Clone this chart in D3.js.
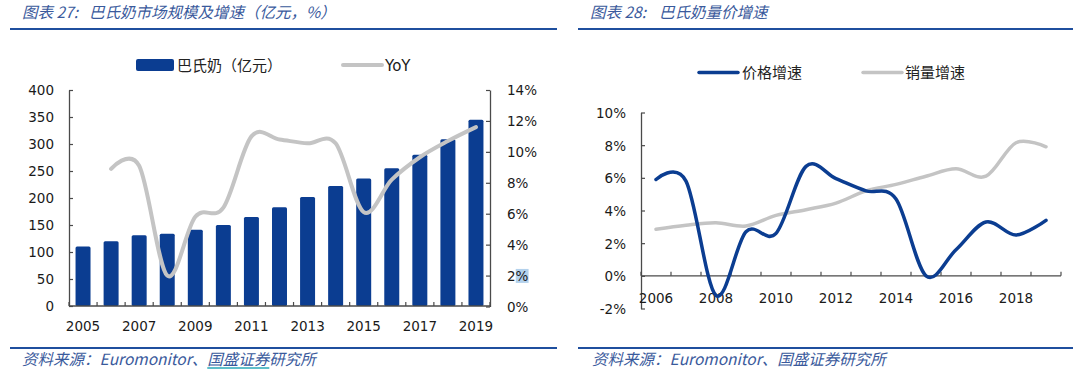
<!DOCTYPE html>
<html lang="zh">
  <head>
    <meta charset="UTF-8" />
    <title>巴氏奶市场规模及增速</title>
    <style>
      body { margin: 0; background: #fff; }
      svg { display: block; }
      .title, .source { font-family: "Noto Sans CJK SC", sans-serif; font-style: italic; fill: #3a5a9c; font-size: 15.5px; }
      .lab { font-family: "DejaVu Sans", Verdana, sans-serif; font-size: 13.5px; fill: #1a1a1a; }
      .legend { font-family: "Noto Sans CJK SC", sans-serif; font-size: 15px; fill: #222; }
    </style>
  </head>
  <body>
    <svg width="1073" height="383"></svg>

    <script src="https://d3js.org/d3.v7.min.js"></script>
    <script>
      // chart 27 data
      const years27 = d3.range(2005, 2020);
      const market = [110, 120, 131, 134, 141, 150, 165, 183, 202, 222, 236, 255, 280, 309, 345];
      const yoyYears = d3.range(2006, 2020);
      const yoy = [8.9, 9.1, 2.0, 5.8, 6.4, 11.0, 10.8, 10.55, 10.55, 6.1, 8.2, 9.65, 10.7, 11.6];
      const leftTicks = [0, 50, 100, 150, 200, 250, 300, 350, 400];
      const rightTicks = [0, 2, 4, 6, 8, 10, 12, 14];

      // chart 28 data
      const years28 = d3.range(2006, 2020);
      const priceGrowth = [5.9, 5.8, -1.2, 2.7, 2.6, 6.7, 5.95, 5.2, 4.7, 0.0, 1.6, 3.3, 2.5, 3.4];
      const volumeGrowth = [2.85, 3.1, 3.25, 3.05, 3.7, 4.05, 4.45, 5.2, 5.6, 6.1, 6.55, 6.1, 8.15, 7.9];
      const pctTicks = [-2, 0, 2, 4, 6, 8, 10];

      const blue = "#0b3d91";
      const grey = "#c4c4c4";
      const axisColor = "#4a4a4a";

      const svg = d3.select("svg");

      // header and footer rules
      [[10, 557], [578, 1073]].forEach(([a, b]) => {
        svg.append("line").attr("x1", a).attr("x2", b).attr("y1", 29).attr("y2", 29)
          .attr("stroke", "#1f4f9e").attr("stroke-width", 2.2);
        svg.append("line").attr("x1", a).attr("x2", b).attr("y1", 348).attr("y2", 348)
          .attr("stroke", "#1f4f9e").attr("stroke-width", 2.2);
      });

      // titles: number and text placed apart, as in the report
      const t27 = svg.append("text").attr("class", "title").attr("y", 18);
      t27.append("tspan").attr("x", 22).text("图表 27:");
      t27.append("tspan").attr("x", 89).text("巴氏奶市场规模及增速（亿元，%）");
      const t28 = svg.append("text").attr("class", "title").attr("y", 18);
      t28.append("tspan").attr("x", 590).text("图表 28:");
      t28.append("tspan").attr("x", 659).text("巴氏奶量价增速");

      const src1 = svg.append("text").attr("class", "source").attr("x", 22).attr("y", 365)
        .text("资料来源：Euromonitor、国盛证券研究所");
      svg.append("text").attr("class", "source").attr("x", 592).attr("y", 365)
        .text("资料来源：Euromonitor、国盛证券研究所");

      // underline under the link in the left footer
      const full = src1.text();
      const i0 = full.indexOf("国盛");
      const n0 = src1.node();
      const ux0 = 22 + n0.getSubStringLength(0, i0);
      const ux1 = ux0 + n0.getSubStringLength(i0, 4);
      svg.append("line").attr("x1", ux0).attr("x2", ux1).attr("y1", 368).attr("y2", 368)
        .attr("stroke", "#2aa8b8").attr("stroke-width", 1.5);

      // ---------- chart 27 ----------
      const x1 = d3.scaleBand().domain(years27).range([69, 490]).paddingInner(0.466).paddingOuter(0.233);
      const yL = d3.scaleLinear().domain([0, 400]).range([306, 90]);
      const yR = d3.scaleLinear().domain([0, 14]).range([306.5, 90]);

      svg.append("g").selectAll("rect").data(market).join("rect")
        .attr("x", (d, i) => x1(years27[i]))
        .attr("y", d => yL(d))
        .attr("width", x1.bandwidth())
        .attr("height", d => yL(0) - yL(d))
        .attr("rx", 1.5)
        .attr("fill", blue);

      const gL = svg.append("g").attr("transform", "translate(69,0)")
        .call(d3.axisLeft(yL).tickValues(leftTicks).tickSizeInner(-4).tickSizeOuter(0).tickPadding(15));
      const gR = svg.append("g").attr("transform", "translate(490,0)")
        .call(d3.axisRight(yR).tickValues(rightTicks).tickSizeInner(-4).tickSizeOuter(0).tickPadding(17)
          .tickFormat(d => d + "%"));
      [gL, gR].forEach(g => {
        g.select(".domain").attr("stroke", axisColor).attr("stroke-width", 1.3);
        g.selectAll(".tick line").attr("stroke", axisColor).attr("stroke-width", 1.2);
        g.selectAll(".tick text").attr("class", "lab").attr("fill", null).attr("dy", "0.36em");
        g.attr("font-size", null).attr("font-family", null);
      });

      // highlight behind "%" of the 2% label
      const t2 = gR.selectAll(".tick text").filter(d => d === 2);
      const bb = t2.node().getBBox();
      const pw = t2.node().getSubStringLength(1, 1);
      gR.selectAll(".tick").filter(d => d === 2).insert("rect", "text")
        .attr("x", bb.x + bb.width - pw).attr("y", bb.y + 1)
        .attr("width", pw).attr("height", bb.height - 2)
        .attr("fill", "#b3d1ec");

      // x axis of chart 27
      svg.append("line").attr("x1", 69).attr("x2", 490).attr("y1", yL(0)).attr("y2", yL(0))
        .attr("stroke", axisColor).attr("stroke-width", 1.3);
      svg.append("g").selectAll("line").data(d3.range(years27.length + 1)).join("line")
        .attr("x1", i => x1.range()[0] + i * x1.step())
        .attr("x2", i => x1.range()[0] + i * x1.step())
        .attr("y1", yL(0)).attr("y2", yL(0) - 4)
        .attr("stroke", axisColor).attr("stroke-width", 1.2);
      svg.append("g").selectAll("text").data(years27.filter(y => (y - 2005) % 2 === 0)).join("text")
        .attr("class", "lab")
        .attr("x", d => x1(d) + x1.bandwidth() / 2)
        .attr("y", 331)
        .attr("text-anchor", "middle")
        .text(d => d);

      const yoyLine = d3.line()
        .x((d, i) => x1(yoyYears[i]) + x1.bandwidth() / 2)
        .y(d => yR(d))
        .curve(d3.curveCardinal.tension(0));
      svg.append("path").datum(yoy).attr("d", yoyLine)
        .attr("fill", "none").attr("stroke", grey).attr("stroke-width", 4)
        .attr("stroke-linecap", "round");

      // legend 27
      svg.append("rect").attr("x", 136).attr("y", 59).attr("width", 38).attr("height", 12)
        .attr("rx", 2).attr("fill", blue);
      svg.append("text").attr("class", "legend").attr("x", 177).attr("y", 70.5).text("巴氏奶（亿元）");
      svg.append("line").attr("x1", 343).attr("x2", 382).attr("y1", 65).attr("y2", 65)
        .attr("stroke", grey).attr("stroke-width", 4).attr("stroke-linecap", "round");
      svg.append("text").attr("class", "lab").attr("x", 385).attr("y", 70.5)
        .style("font-size", "15px").attr("fill", "#222").text("YoY");

      // ---------- chart 28 ----------
      const x2 = d3.scaleBand().domain(years28).range([641, 1061]);
      const y2 = d3.scaleLinear().domain([-2, 10]).range([308.5, 112.5]);

      const gP = svg.append("g").attr("transform", "translate(641,0)")
        .call(d3.axisLeft(y2).tickValues(pctTicks).tickSizeInner(-4).tickSizeOuter(0).tickPadding(15)
          .tickFormat(d => d + "%"));
      gP.attr("font-size", null).attr("font-family", null);
      gP.select(".domain").attr("stroke", axisColor).attr("stroke-width", 1.3);
      gP.selectAll(".tick line").attr("stroke", axisColor).attr("stroke-width", 1.2);
      gP.selectAll(".tick text").attr("class", "lab").attr("fill", null).attr("dy", "0.36em");

      svg.append("line").attr("x1", 641).attr("x2", 1061).attr("y1", y2(0)).attr("y2", y2(0))
        .attr("stroke", axisColor).attr("stroke-width", 1.3);
      svg.append("g").selectAll("line").data(d3.range(years28.length + 1)).join("line")
        .attr("x1", i => 641 + i * x2.step())
        .attr("x2", i => 641 + i * x2.step())
        .attr("y1", y2(0)).attr("y2", y2(0) - 4)
        .attr("stroke", axisColor).attr("stroke-width", 1.2);
      svg.append("g").selectAll("text").data(years28.filter(y => (y - 2006) % 2 === 0)).join("text")
        .attr("class", "lab")
        .attr("x", d => x2(d) + x2.bandwidth() / 2)
        .attr("y", 303)
        .attr("text-anchor", "middle")
        .text(d => d);

      const line28 = d3.line()
        .x((d, i) => x2(years28[i]) + x2.bandwidth() / 2)
        .y(d => y2(d))
        .curve(d3.curveCardinal.tension(0));
      svg.append("path").datum(volumeGrowth).attr("d", line28)
        .attr("fill", "none").attr("stroke", grey).attr("stroke-width", 3.5).attr("stroke-linecap", "round");
      svg.append("path").datum(priceGrowth).attr("d", line28)
        .attr("fill", "none").attr("stroke", blue).attr("stroke-width", 3.5).attr("stroke-linecap", "round");

      // legend 28
      svg.append("line").attr("x1", 699).attr("x2", 738).attr("y1", 72.5).attr("y2", 72.5)
        .attr("stroke", blue).attr("stroke-width", 3.5).attr("stroke-linecap", "round");
      svg.append("text").attr("class", "legend").attr("x", 742).attr("y", 78).text("价格增速");
      svg.append("line").attr("x1", 863).attr("x2", 902).attr("y1", 72.5).attr("y2", 72.5)
        .attr("stroke", grey).attr("stroke-width", 3.5).attr("stroke-linecap", "round");
      svg.append("text").attr("class", "legend").attr("x", 905).attr("y", 78).text("销量增速");
    </script>
  </body>
</html>
